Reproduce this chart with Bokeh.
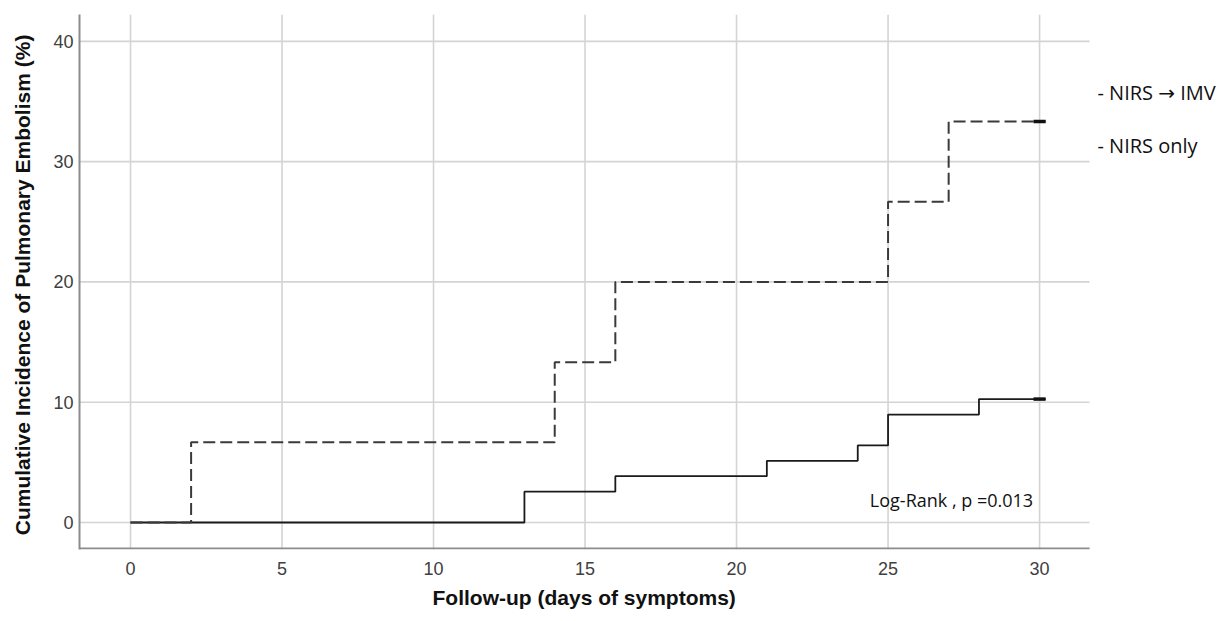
from bokeh.plotting import figure
from bokeh.models import Range1d, Label, FixedTicker, Title
from bokeh.embed import file_html
from bokeh.resources import INLINE

# Data
imv_days = [0, 2, 14, 16, 25, 27, 30.2]
imv_pct = [0, 6.67, 13.33, 20.0, 26.67, 33.33, 33.33]
only_days = [0, 13, 16, 21, 24, 25, 28, 30.2]
only_pct = [0, 2.56, 3.85, 5.13, 6.41, 8.97, 10.26, 10.26]
x_ticks = [0, 5, 10, 15, 20, 25, 30]
y_ticks = [0, 10, 20, 30, 40]
legend_labels = ["- NIRS \u2192 IMV", "- NIRS only"]
stat_text = "Log-Rank , p =0.013"
x_title = "Follow-up (days of symptoms)"
y_title = "Cumulative Incidence of Pulmonary Embolism  (%)"

# axis extents of the drawn plot area (data units)
x_lo, x_hi = -1.683, 31.65
y_lo, y_hi = -2.244, 42.23

p = figure(width=1223, height=621, output_backend="svg", toolbar_location=None,
           x_range=Range1d(x_lo, 36.07), y_range=Range1d(y_lo, y_hi),
           min_border_left=79, min_border_right=0, min_border_top=14,
           min_border_bottom=72)
p.outline_line_color = None
p.background_fill_color = "white"
p.border_fill_color = "white"

tick_font = "'Liberation Sans Narrow', 'Liberation Sans'"
for ax in (p.xaxis[0], p.yaxis[0]):
    ax.axis_line_color = "#8c8c8c"
    ax.axis_line_width = 2
    ax.major_tick_line_color = None
    ax.minor_tick_line_color = None
    ax.major_tick_out = 0
    ax.major_tick_in = 0
    ax.major_label_text_font = tick_font
    ax.major_label_text_font_size = "18px"
    ax.major_label_text_color = "#404040"
    ax.axis_label_text_font = "Liberation Sans"
    ax.axis_label_text_font_size = "21px"
    ax.axis_label_text_font_style = "bold"
    ax.axis_label_text_color = "#111111"

p.xaxis.axis_line_color = None
p.xaxis.ticker = FixedTicker(ticks=x_ticks)
p.yaxis.ticker = FixedTicker(ticks=y_ticks)
p.xaxis.major_label_standoff = 12
p.yaxis.major_label_standoff = 6
p.yaxis.axis_label = y_title
p.yaxis.axis_label_standoff = 16
p.xgrid.visible = False
p.ygrid.visible = False

# x-axis title, centred under the drawn plot area (frame extends to the right for the key)
p.add_layout(Title(text=x_title, align="left", offset=353, standoff=13,
                   text_font="Liberation Sans", text_font_size="21px",
                   text_font_style="bold", text_color="#111111"), "below")

# grid lines limited to the plot area
grid_col = "#d4d4d4"
p.segment(x0=x_ticks, y0=[y_lo] * len(x_ticks), x1=x_ticks, y1=[y_hi] * len(x_ticks),
          line_color=grid_col, line_width=1.6)
p.segment(x0=[x_lo] * len(y_ticks), y0=y_ticks, x1=[x_hi] * len(y_ticks), y1=y_ticks,
          line_color=grid_col, line_width=1.6)
# bottom axis line
p.segment(x0=[x_lo], y0=[y_lo + 1.0 / 12.03], x1=[x_hi], y1=[y_lo + 1.0 / 12.03],
          line_color="#8c8c8c", line_width=2)

# Curves
p.step(only_days, only_pct, mode="after", line_color="#1a1a1a", line_width=1.8)
p.step(imv_days, imv_pct, mode="after", line_color="#3a3a3a", line_width=2,
       line_dash="12 5")

# Censoring marks at the end
p.segment(x0=[imv_days[-1] - 0.4, only_days[-1] - 0.4], y0=[imv_pct[-1], only_pct[-1]],
          x1=[imv_days[-1], only_days[-1]], y1=[imv_pct[-1], only_pct[-1]],
          line_color="#111111", line_width=3.5)

p.add_layout(Label(x=24.4, y=1.9, text=stat_text, text_font="Open Sans",
                   text_font_size="18px", text_color="#111111",
                   text_baseline="middle", text_align="left"))

for txt, yy in zip(legend_labels, [35.74, 31.35]):
    p.add_layout(Label(x=31.91, y=yy, text=txt, text_font="'Open Sans', 'DejaVu Sans'",
                       text_font_size="20px", text_color="#111111",
                       text_baseline="middle", text_align="left"))

open("out.html", "w").write(file_html(p, INLINE))
